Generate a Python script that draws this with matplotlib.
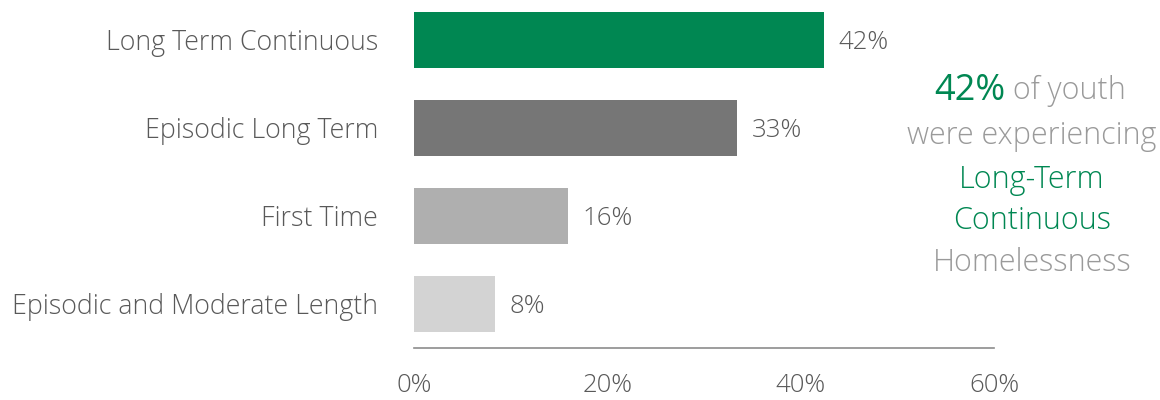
import matplotlib
matplotlib.use("Agg")
import matplotlib.pyplot as plt

# data
categories = ["Long Term Continuous", "Episodic Long Term", "First Time",
              "Episodic and Moderate Length"]
values = [42.4, 33.4, 15.9, 8.4]
bar_colors = ["#008752", "#767676", "#AFAFAF", "#D3D3D3"]
xticks = [0, 20, 40, 60]

plt.rcParams['font.family'] = ['Open Sans', 'DejaVu Sans']
plt.rcParams['font.weight'] = 'light'

txt = "#595959"
green = "#008752"
grey = "#9a9a9a"

fig = plt.figure(figsize=(11.6, 4), dpi=100)
ax = fig.add_axes([414 / 1160, 52 / 400, 580 / 1160, 348 / 400])

y = list(range(len(categories)))
ax.barh(y, values, height=0.64, color=bar_colors)
for yi, v in zip(y, values):
    ax.text(v + 1.5, yi, f"{v:.0f}%", va="center_baseline", ha="left", fontsize=18.5, color=txt)

ax.set_xlim(0, 60)
ax.set_ylim(3.5, -0.4545)
ax.set_yticks(y)
ax.set_yticklabels(categories, fontsize=19.3, color=txt, va="center_baseline")
ax.set_xticks(xticks)
ax.set_xticklabels([f"{t}%" for t in xticks], fontsize=18.5, color=txt)
ax.tick_params(axis="both", length=0)
ax.tick_params(axis="y", pad=26)
ax.tick_params(axis="x", pad=18)
for s in ["top", "right", "left"]:
    ax.spines[s].set_visible(False)
ax.spines["bottom"].set_color("#8c8c8c")
ax.spines["bottom"].set_linewidth(1.2)

# side note
cx = 1032 / 1160
fig.text(1005 / 1160, 1 - 87 / 400, "42%", fontsize=26, color=green, ha="right", va="center_baseline",
         fontweight="normal")
fig.text(1005 / 1160, 1 - 87 / 400, " of youth", fontsize=22, color=grey, ha="left", va="center_baseline")
fig.text(cx, 1 - 132 / 400, "were experiencing", fontsize=22, color=grey, ha="center", va="center_baseline")
fig.text(cx, 1 - 176 / 400, "Long-Term", fontsize=22, color=green, ha="center", va="center_baseline")
fig.text(cx, 1 - 217 / 400, "Continuous", fontsize=22, color=green, ha="center", va="center_baseline")
fig.text(cx, 1 - 259 / 400, "Homelessness", fontsize=22, color=grey, ha="center", va="center_baseline")

fig.savefig("out.png", dpi=100)
